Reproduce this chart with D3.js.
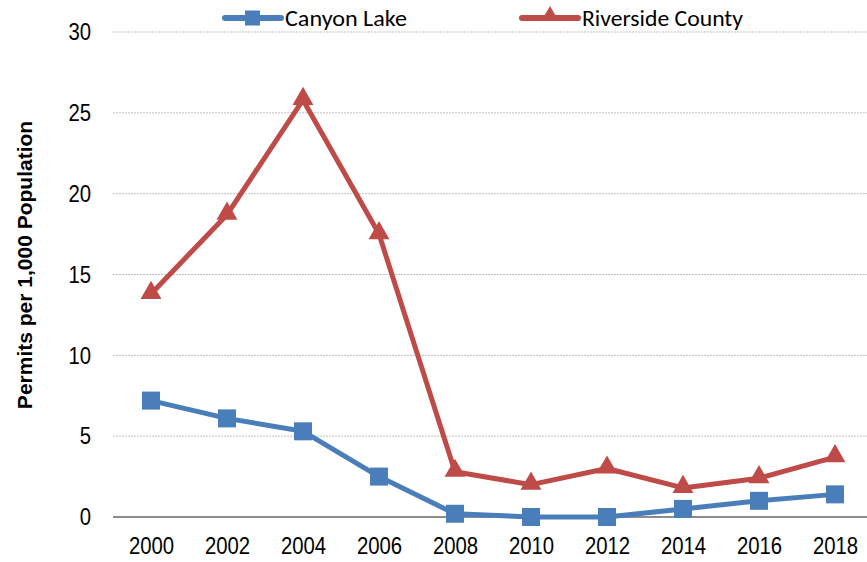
<!DOCTYPE html>
<html>
<head>
<meta charset="utf-8">
<script src="https://cdn.jsdelivr.net/npm/d3@7"></script>
<style>
  body { margin: 0; background: #fff; }
  svg { display: block; }
</style>
</head>
<body>
<div id="chart"></div>
<script>
// values
var years = ["2000", "2002", "2004", "2006", "2008", "2010", "2012", "2014", "2016", "2018"];
var canyonLake = [7.2, 6.1, 5.3, 2.5, 0.2, 0.0, 0.0, 0.5, 1.0, 1.4];
var riverside = [13.8, 18.7, 25.8, 17.5, 2.8, 2.0, 3.0, 1.8, 2.4, 3.7];
var yTicks = [0, 5, 10, 15, 20, 25, 30];

var W = 867, H = 562;
var margin = {left: 113, top: 32};
var plotH = 485;

var svg = d3.select("#chart").append("svg")
  .attr("width", W).attr("height", H);

var x = d3.scalePoint()
  .domain(years)
  .range([margin.left, margin.left + 760])
  .padding(0.5);

var y = d3.scaleLinear()
  .domain([0, 30])
  .range([margin.top + plotH, margin.top]);

var tickFont = "'Liberation Sans', Arial, sans-serif";

// narrow look: squeeze the digits to about 11px each
function narrow(sel) {
  sel.style("font-family", tickFont)
    .style("font-size", "24px")
    .style("fill", "#000")
    .attr("lengthAdjust", "spacingAndGlyphs")
    .attr("textLength", function() { return this.textContent.length * 11.3; });
}

// gridlines
svg.append("g")
  .selectAll("line")
  .data(yTicks.filter(function(d) { return d > 0; }))
  .enter().append("line")
  .attr("x1", margin.left).attr("x2", W)
  .attr("y1", function(d) { return y(d); })
  .attr("y2", function(d) { return y(d); })
  .style("stroke", "#bfbfbf")
  .style("stroke-width", 1)
  .style("stroke-dasharray", "2,1");

// y axis labels
var yAxis = svg.append("g")
  .attr("transform", "translate(" + margin.left + ",0)")
  .call(d3.axisLeft(y).tickValues(yTicks).tickSize(0).tickPadding(22));
yAxis.select(".domain").remove();
yAxis.selectAll("text").call(narrow);

// x axis
var xAxis = svg.append("g")
  .attr("transform", "translate(0," + y(0) + ")")
  .call(d3.axisBottom(x).tickSize(0).tickPadding(20));
xAxis.select(".domain")
  .attr("d", "M" + margin.left + ",0H" + W)
  .style("stroke", "#8c8c8c")
  .style("stroke-width", 2);
xAxis.selectAll("text").call(narrow);

// y title
svg.append("text")
  .attr("transform", "translate(32,265) rotate(-90)")
  .style("text-anchor", "middle")
  .style("font-family", "'Liberation Sans', Arial, sans-serif")
  .style("font-weight", "bold")
  .style("font-size", "21px")
  .text("Permits per 1,000 Population");

var line = d3.line()
  .x(function(d, i) { return x(years[i]); })
  .y(function(d) { return y(d); });

var blue = "#4a7ebb", red = "#be4b48";

var triangle = d3.symbol().type(d3.symbolTriangle).size(190);

function drawSeries(vals, color, marker) {
  svg.append("path")
    .datum(vals)
    .attr("d", line)
    .style("fill", "none")
    .style("stroke", color)
    .style("stroke-width", 5)
    .style("stroke-linejoin", "round");
  var g = svg.append("g");
  if (marker == "square") {
    g.selectAll("rect").data(vals).enter().append("rect")
      .attr("x", function(d, i) { return x(years[i]) - 9; })
      .attr("y", function(d) { return y(d) - 9; })
      .attr("width", 18).attr("height", 18)
      .style("fill", color);
  } else {
    g.selectAll("path").data(vals).enter().append("path")
      .attr("d", triangle)
      .attr("transform", function(d, i) { return "translate(" + x(years[i]) + "," + (y(d) - 1) + ")"; })
      .style("fill", color);
  }
}

drawSeries(riverside, red, "triangle");
drawSeries(canyonLake, blue, "square");

// legend
var legendFont = "Carlito, Calibri, Lato, 'Open Sans', sans-serif";
var legend = [
  {name: "Canyon Lake", color: blue, marker: "square", x: 225, w: 122},
  {name: "Riverside County", color: red, marker: "triangle", x: 522, w: 161}
];
var legendTri = d3.symbol().type(d3.symbolTriangle).size(130);
legend.forEach(function(l) {
  var g = svg.append("g").attr("transform", "translate(" + l.x + ",18)");
  g.append("line").attr("x1", 0).attr("x2", 56)
    .style("stroke", l.color).style("stroke-width", 6).style("stroke-linecap", "round");
  if (l.marker == "square") {
    g.append("rect").attr("x", 20).attr("y", -7.5).attr("width", 15).attr("height", 15).style("fill", l.color);
  } else {
    g.append("path").attr("d", legendTri).attr("transform", "translate(28,-2)").style("fill", l.color);
  }
  g.append("text").attr("x", 60).attr("y", 8)
    .style("font-family", legendFont)
    .style("font-size", "23px")
    .attr("lengthAdjust", "spacingAndGlyphs")
    .attr("textLength", l.w)
    .text(l.name);
});
</script>
</body>
</html>
